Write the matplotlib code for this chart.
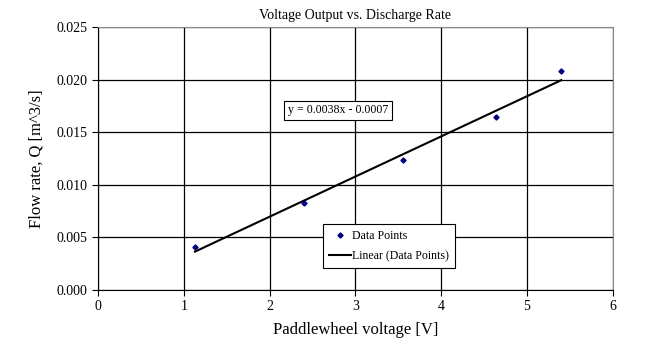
import matplotlib.pyplot as plt
import numpy as np

plt.rcParams['font.family'] = ['Liberation Serif', 'DejaVu Serif']

# данные
voltage = [1.13, 2.40, 3.55, 4.64, 5.40]
flow = [0.0041, 0.0083, 0.0124, 0.0164, 0.0208]

x_ticks = [0, 1, 2, 3, 4, 5, 6]
y_ticks = [0.000, 0.005, 0.010, 0.015, 0.020, 0.025]

fig = plt.figure(figsize=(6.45, 3.46), dpi=100)
ax = fig.add_axes([0.152, 0.162, 0.798, 0.760])

# линейный тренд
k, b = np.polyfit(voltage, flow, 1)
xs = np.array([min(voltage), max(voltage)])
ax.plot(voltage, flow, linestyle='none', marker='D', markersize=2.6,
        color='#000080', label='Data Points', zorder=3)
ax.plot(xs, k * xs + b, color='black', linewidth=1.5,
        label='Linear (Data Points)', zorder=2)

ax.set_xlim(0, 6)
ax.set_ylim(0, 0.025)
ax.set_xticks(x_ticks)
ax.set_yticks(y_ticks)
ax.set_yticklabels(['%.3f' % v for v in y_ticks])
ax.grid(True, color='black', linewidth=0.9)
ax.set_axisbelow(True)
ax.tick_params(direction='out', length=4, labelsize=10, color='black')
for s in ['top', 'right']:
    ax.spines[s].set_color('#888888')

ax.set_title('Voltage Output vs. Discharge Rate', fontsize=10, pad=6)
ax.set_xlabel('Paddlewheel voltage [V]', fontsize=12, labelpad=6)
ax.set_ylabel('Flow rate, Q [m^3/s]', fontsize=12, labelpad=9)

ax.text(0.466, 0.684, 'y = %.4fx - %.4f' % (k, -b), transform=ax.transAxes,
        ha='center', va='center', fontsize=8.6,
        bbox=dict(boxstyle='square,pad=0.3', facecolor='white',
                  edgecolor='black', linewidth=0.8))

leg = ax.legend(loc='center', bbox_to_anchor=(0.565, 0.167), fontsize=8.6,
                frameon=True, fancybox=False, edgecolor='black',
                framealpha=1, handlelength=1.8, borderpad=0.5,
                labelspacing=0.65, handletextpad=0.1, borderaxespad=0)
leg.get_frame().set_linewidth(0.8)

fig.savefig('out.png', dpi=100)
